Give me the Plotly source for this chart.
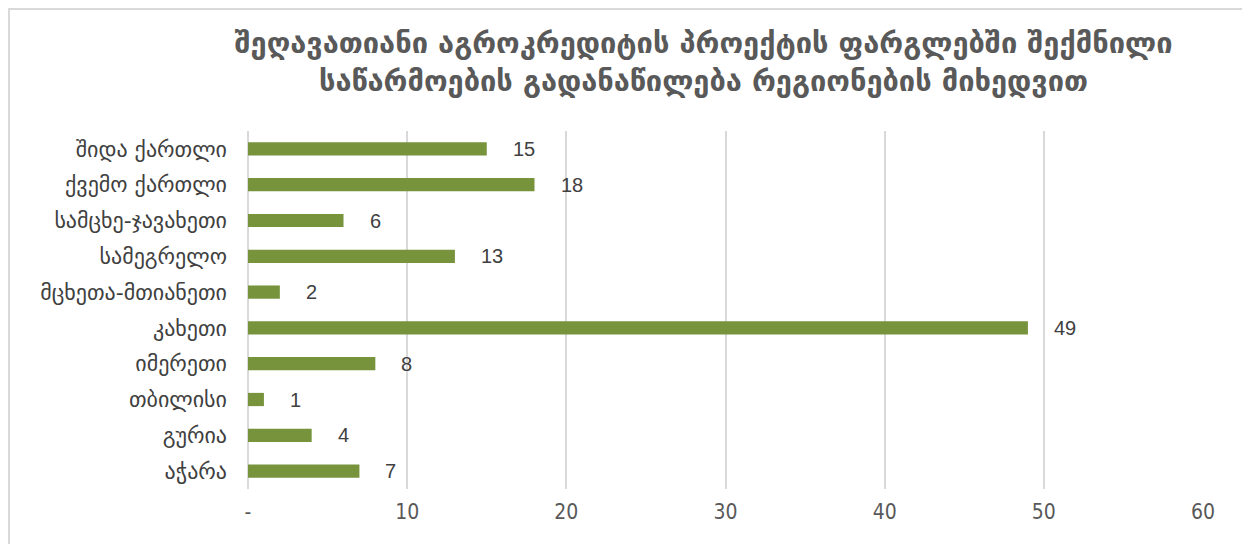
import plotly.graph_objects as go

# რეგიონები (ზემოდან ქვემოთ) და საწარმოების რაოდენობა
regions = ['შიდა ქართლი', 'ქვემო ქართლი', 'სამცხე-ჯავახეთი', 'სამეგრელო', 'მცხეთა-მთიანეთი',
           'კახეთი', 'იმერეთი', 'თბილისი', 'გურია', 'აჭარა']
counts = [15, 18, 6, 13, 2, 49, 8, 1, 4, 7]

tick_vals = [0, 10, 20, 30, 40, 50, 60]
tick_text = ['-', '10', '20', '30', '40', '50', '60']

title_text = ('<b>შეღავათიანი აგროკრედიტის პროექტის ფარგლებში შექმნილი<br>'
              'საწარმოების გადანაწილება რეგიონების მიხედვით</b>')

font_main = 'DejaVu Sans'

# გვერდს აქვს 8px დაშორება, ამიტომ ფიგურა ოდნავ პატარაა
W, H = 1242, 536
ml, mr, mt, mb = 240, 47, 123, 55

fig = go.Figure()
fig.add_trace(go.Bar(
    x=counts[::-1],
    y=regions[::-1],
    orientation='h',
    marker=dict(color='#77933C', line=dict(width=0)),
    width=0.37,
    hoverinfo='x+y',
))

# მნიშვნელობების წარწერები
for r, c in zip(regions, counts):
    fig.add_annotation(x=c, y=r, text=str(c), showarrow=False,
                       xanchor='left', xshift=24,
                       font=dict(size=20, color='#404040', family='Liberation Sans, Arial'))

fig.update_layout(
    width=W, height=H,
    margin=dict(l=ml, r=mr, t=mt, b=mb),
    paper_bgcolor='white', plot_bgcolor='white',
    showlegend=False,
    title=dict(text=title_text, x=0.56, xanchor='center',
               yref='container', y=1 - 45 / H, yanchor='top',
               font=dict(size=29, color='#595959', family=font_main)),
    xaxis=dict(range=[0, 60], tickvals=tick_vals, ticktext=tick_text,
               showgrid=True, gridcolor='#d9d9d9', gridwidth=1.5,
               zeroline=True, zerolinecolor='#d9d9d9', zerolinewidth=1.5,
               tickfont=dict(size=21, color='#595959', family='DejaVu Sans Condensed'),
               ticks='', ticklabelstandoff=8, automargin=False, fixedrange=True),
    yaxis=dict(tickfont=dict(size=22, color='#404040', family=font_main),
               ticks='', ticklabelstandoff=20, showgrid=False,
               automargin=False, fixedrange=True),
    font=dict(family=font_main),
)

# ჩარჩო დიაგრამის გარშემო
pw = W - ml - mr
ph = H - mt - mb
fig.add_shape(type='rect', xref='paper', yref='paper',
              x0=-(ml - 1) / pw, x1=1 + (mr + 20) / pw,
              y0=-(mb + 20) / ph, y1=1 + (mt - 1) / ph,
              line=dict(color='#d9d9d9', width=2), fillcolor='rgba(0,0,0,0)', layer='below')

fig.write_html('out.html')
